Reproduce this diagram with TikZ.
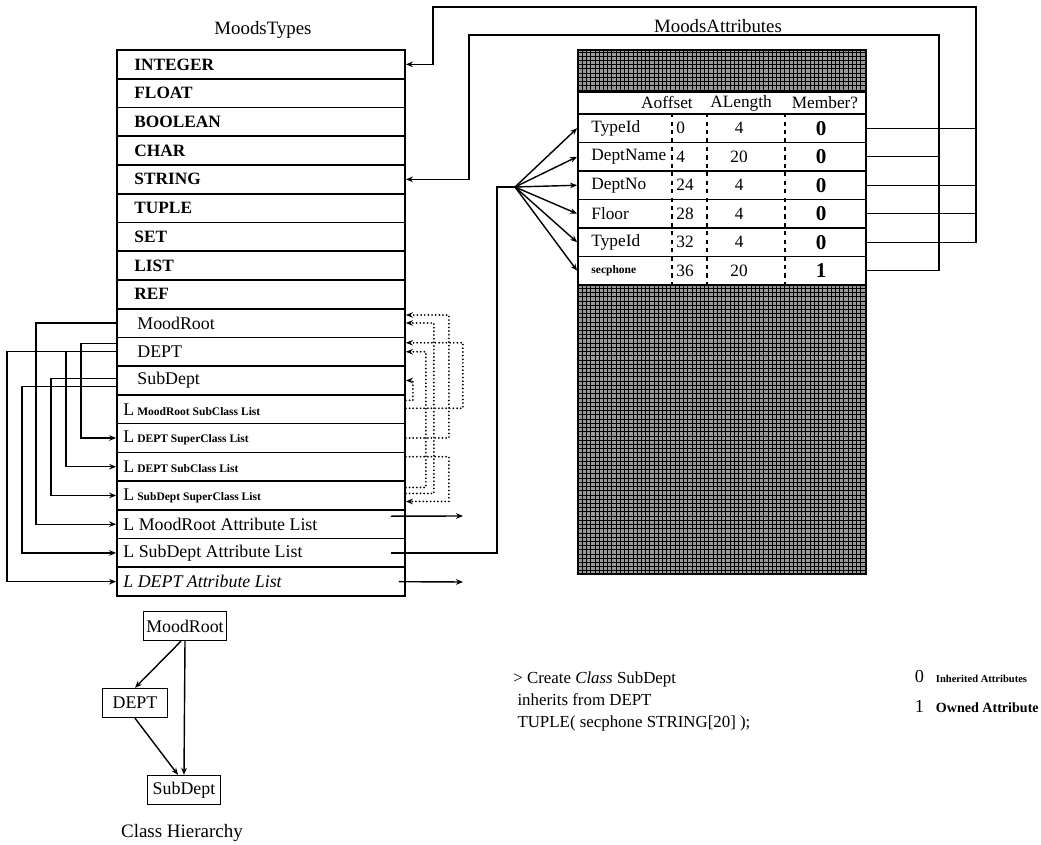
\documentclass[tikz,border=0pt]{standalone}
\usepackage{fontspec}
\setmainfont{Liberation Serif}
\usetikzlibrary{arrows.meta, positioning, calc, patterns}

\newcommand{\listsmall}[1]{L\,{\fontsize{8.2}{9}\selectfont\bfseries #1}}
\newcommand{\typename}[1]{{\fontsize{12.3}{14}\selectfont\bfseries #1}}

\begin{document}
\begin{tikzpicture}[x=0.025cm, y=-0.025cm, font=\fontsize{12.7}{15}\selectfont]
  \useasboundingbox (0,0) rectangle (1041,845);
  \tikzset{
    typerow/.style={draw, line width=1.2pt, minimum width=7.2cm, minimum height=0.7185cm, inner sep=0pt},
    attrrow/.style={draw, line width=1.2pt, minimum width=7.2cm, minimum height=0.7125cm, inner sep=0pt},
    rowtxt/.style={anchor=west, inner sep=0pt},
    cell/.style={font=\fontsize{12.3}{14}\selectfont},
    title/.style={font=\fontsize{13.4}{16}\selectfont},
    hatch/.style={draw, line width=1.2pt, minimum width=7.2cm, inner sep=0pt,
      preaction={fill=black!40}, pattern=grid, pattern color=black},
    sep/.style={line width=1pt, dash pattern=on 3pt off 3pt},
    link/.style={line width=1pt},
    dots/.style={line width=1.4pt, line cap=round, dash pattern=on 0pt off 2.6pt},
    tip/.style={-{Stealth[length=5pt, width=4pt]}},
    hbox/.style={draw, line width=1.1pt, inner xsep=2pt, minimum height=0.72cm}
  }
  % MoodsTypes table
  \node[title] (typestitle) at (263,30) {MoodsTypes};
  \foreach \i/\txt/\ind in {1/\typename{INTEGER}/18, 2/\typename{FLOAT}/18,
      3/\typename{BOOLEAN}/18, 4/\typename{CHAR}/18, 5/\typename{STRING}/18,
      6/\typename{TUPLE}/18, 7/\typename{SET}/18, 8/\typename{LIST}/18, 9/\typename{REF}/18,
      10/MoodRoot/21, 11/DEPT/21, 12/SubDept/21,
      13/\listsmall{MoodRoot SubClass List}/7, 14/\listsmall{DEPT SuperClass List}/7,
      15/\listsmall{DEPT SubClass List}/7, 16/\listsmall{SubDept SuperClass List}/7,
      17/L MoodRoot Attribute List/7, 18/L SubDept Attribute List/7,
      19/{\itshape L DEPT Attribute List}/7}{
    \node[typerow] (t\i) at (261,{50+28.74*(\i-0.5)}) {};
    \node[rowtxt] (l\i) at ($(t\i.west)+(\ind,0)$) {\txt};
  }
  % class rows point to their lists (left side)
  \draw[link,tip] (t10.west) -- ++(-80,0) |- (t17.west);
  \draw[link,tip] ($(t11.west)+(0,-8)$) -- ++(-35,0) |- (t14.west);
  \draw[link,tip] (t11.west) -- ++(-50,0) |- (t15.west);
  \draw[link,tip] (t11.west) -- ++(-109,0) |- (t19.west);
  \draw[link,tip] ($(t12.west)+(0,-2)$) -- ++(-65,0) |- (t16.west);
  \draw[link,tip] ($(t12.west)+(0,6)$) -- ++(-94,0) |- (t18.west);
  % lists point back to classes (right side, dotted)
  \draw[dots,tip] (t14.east) -- ++(43,0) |- ($(t10.east)+(0,-8)$);
  \draw[dots,tip] ($(t16.east)+(0,-2)$) -- ++(28,0) |- (t10.east);
  \draw[dots,tip] ($(t13.east)+(0,-1)$) -- ++(57,0) |- ($(t11.east)+(0,-9)$);
  \draw[dots,tip] ($(t16.east)+(0,-8)$) -- ++(20,0) |- (t11.east);
  \draw[dots,tip] ($(t13.east)+(0,-9)$) -- ++(7,0) |- (t12.east);
  \draw[dots,tip] ($(t15.east)+(0,-10)$) -- ++(43,0) |- ($(t16.east)+(0,6)$);

  % MoodsAttributes table
  \node[title, anchor=base] (attrtitle) at (718,33) {MoodsAttributes};
  \node[hatch, minimum height=1.05cm] (htop) at (722,71) {};
  \node[attrrow, minimum height=0.55cm] (hdr) at (722,103) {};
  \node[cell] (hoff) at (667,103) {Aoffset};
  \node[cell] (hlen) at (741,103) {ALength};
  \node[cell] (hmem) at (825,103) {Member?};
  \foreach \i/\nm/\off/\len/\mem in {1/TypeId/0/4/0, 2/DeptName/4/20/0,
      3/DeptNo/24/4/0, 4/Floor/28/4/0, 5/TypeId/32/4/0,
      6/{\fontsize{8.2}{9}\selectfont\bfseries secphone}/36/20/1}{
    \node[attrrow] (a\i) at (722,{114+28.5*(\i-0.5)}) {};
    \node[rowtxt, cell] (an\i) at ($(a\i.west)+(14,0)$) {\nm};
    \node[rowtxt, cell] (ao\i) at ($(a\i.west)+(99,0)$) {\off};
    \node[cell] (al\i) at ($(a\i.west)+(162,0)$) {\len};
    \node (am\i) at ($(a\i.west)+(244,0)$) {\fontsize{15}{16}\selectfont\bfseries\mem};
  }
  \foreach \dx in {95,130,208}
    \draw[sep] ($(a1.north west)+(\dx,0)$) -- ($(a6.south west)+(\dx,0)$);
  \node[hatch, minimum height=7.225cm] (hbot) at (722,429.5) {};

  % attribute types back to MoodsTypes
  \coordinate (outR) at (976,7);
  \coordinate (outL) at (433,7);
  \coordinate (inR) at (939,35);
  \coordinate (inL) at (469,35);
  \draw[link,tip] (a5.east) -| (outR) -- (outL) |- (t1.east);
  \foreach \r in {a1,a3,a4}
    \draw[link] (\r.east) -- (\r.east -| outR);
  \draw[link,tip] (a6.east) -| (inR) -- (inL) |- (t5.east);
  \draw[link] (a2.east) -- (a2.east -| inR);

  % attribute lists
  \coordinate (mrout) at (463,516);
  \coordinate (deptout) at (463,582);
  \coordinate (fanbend) at (497,187);
  \coordinate (fan) at (515,187);
  \draw[link,tip] ($(t17.east)+(-15,-8)$) -- (mrout);
  \draw[link,tip] ($(t19.east)+(-7,0)$) -- (deptout);
  \draw[link] ($(t18.east)+(-15,0)$) -| (fanbend) -- (fan);
  \foreach \i in {1,...,6}
    \draw[link,tip] (fan) -- (a\i.west);

  % class hierarchy
  \node[hbox, minimum width=2cm] (hroot) at (185,626) {MoodRoot};
  \node[hbox, minimum width=1.625cm] (hdept) at (135,703) {DEPT};
  \node[hbox, minimum width=1.825cm] (hsub) at (184,790) {SubDept};
  \node[font=\fontsize{13.5}{16}\selectfont] (hcap) at (182,833) {Class Hierarchy};
  \draw[link,tip] ($(hroot.south)+(-4,0)$) -- (hdept.north);
  \draw[link,tip] (hroot.south) -- (hsub.north);
  \draw[link,tip] (hdept.south) -- ($(hsub.north)+(-6,0)$);

  % command and legend
  \node[anchor=north west, align=left, inner sep=0pt, font=\fontsize{12}{15.6}\selectfont] (cmd) at (513,672)
    {> Create \textit{Class} SubDept\\ \ inherits from DEPT\\ \ TUPLE( secphone STRING[20] );};
  \node[anchor=west] (leg0) at (910,677) {\fontsize{13}{15}\selectfont 0};
  \node[anchor=west] (leg0t) at (931,679) {\fontsize{7.5}{8}\selectfont\bfseries Inherited Attributes};
  \node[anchor=west] (leg1) at (910,706) {\fontsize{13}{15}\selectfont 1};
  \node[anchor=west] (leg1t) at (931,708) {\fontsize{10}{11}\selectfont\bfseries Owned Attribute};
\end{tikzpicture}
\end{document}
